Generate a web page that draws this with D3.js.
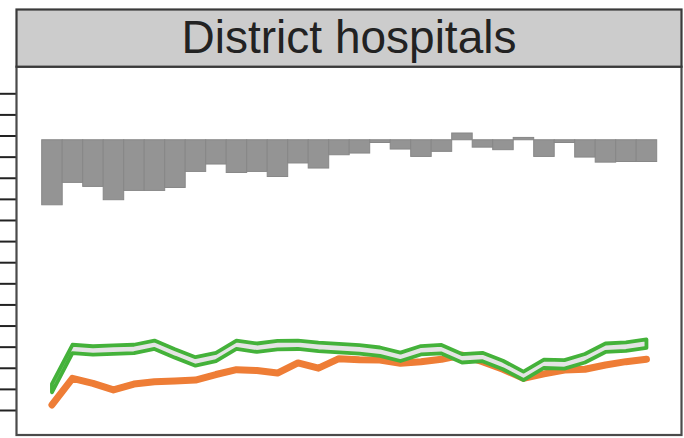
<!DOCTYPE html>
<html>
<head>
<meta charset="utf-8">
<script src="https://cdn.jsdelivr.net/npm/d3@7"></script>
<style>
  html, body { margin: 0; padding: 0; background: #ffffff; }
  svg { display: block; }
</style>
</head>
<body>
<svg id="chart" width="684" height="438"></svg>
<script>
// Panel title
const panelTitle = "District hospitals";

// 30 reporting periods
const periods = d3.range(1, 31);

// Gap bars, hanging from the bar baseline (negative = below)
const barBaseline = 128;
const gapValues = [
  -30.8, -20.2, -22.1, -28.4, -24.0, -24.0, -22.6, -15.0, -11.5, -15.5,
  -15.0, -17.4, -11.0, -13.4, -7.1, -6.3, -1.3, -4.4, -7.9, -5.5,
  3.2, -3.5, -4.7, 1.1, -7.9, -1.3, -8.2, -10.6, -10.3, -10.3
];

// Orange series
const orangeValues = [
  2.4, 15.0, 12.6, 9.5, 12.3, 13.4, 13.7, 14.2, 16.8, 19.1,
  18.7, 17.5, 22.3, 19.8, 24.3, 23.8, 23.7, 22.1, 22.9, 24.0,
  26.0, 22.9, 19.3, 15.0, 17.1, 18.9, 19.3, 21.3, 22.9, 24.0
];

// Green series (centre) and its band half-width
const greenValues = [
  10.4, 28.9, 28.2, 28.6, 28.9, 30.9, 26.8, 23.0, 25.1, 30.9,
  29.5, 30.7, 30.9, 29.9, 29.3, 28.7, 27.6, 25.2, 28.3, 28.8,
  24.5, 25.1, 21.3, 16.2, 21.9, 21.6, 24.5, 29.5, 30.0, 31.4
];
const greenBand = 2.0;

// Y axis ticks
const yTicks = d3.range(0, 151, 10);

const svg = d3.select("#chart");

const frame = { left: 16.5, right: 681.5, stripTop: 9.5, stripBottom: 66.7, bottom: 435 };

const x = d3.scaleBand()
  .domain(periods)
  .range([41.7, 656.7])
  .padding(0);

const y = d3.scaleLinear()
  .domain([0, 150])
  .range([410, 93.3]);

// Panel background
svg.append("rect")
  .attr("x", frame.left).attr("y", frame.stripBottom)
  .attr("width", frame.right - frame.left)
  .attr("height", frame.bottom - frame.stripBottom)
  .attr("fill", "#ffffff");

// Gap bars
svg.append("g")
  .selectAll("rect")
  .data(gapValues)
  .join("rect")
  .attr("x", (d, i) => x(periods[i]))
  .attr("width", x.bandwidth())
  .attr("y", d => Math.min(y(barBaseline), y(barBaseline + d)))
  .attr("height", d => Math.abs(y(barBaseline + d) - y(barBaseline)))
  .attr("fill", "#949494")
  .attr("stroke", "#878787")
  .attr("stroke-width", 1);

const cx = (d, i) => x(periods[i]) + x.bandwidth() / 2;

// Orange line
svg.append("path")
  .datum(orangeValues)
  .attr("d", d3.line().x(cx).y(d => y(d)))
  .attr("fill", "none")
  .attr("stroke", "#ee7d36")
  .attr("stroke-width", 7)
  .attr("stroke-linecap", "round")
  .attr("stroke-linejoin", "round");

// Green ribbon
svg.append("path")
  .datum(greenValues)
  .attr("d", d3.area().x(cx).y0(d => y(d - greenBand)).y1(d => y(d + greenBand)))
  .attr("fill", "#e4e4e4")
  .attr("stroke", "#44b23a")
  .attr("stroke-width", 3.8)
  .attr("stroke-linejoin", "round");

// Left axis ticks (labels fall outside the drawing area)
svg.append("g")
  .attr("transform", `translate(${frame.left},0)`)
  .call(d3.axisLeft(y).tickValues(yTicks).tickSize(17).tickSizeOuter(0).tickFormat(() => ""))
  .call(g => g.select(".domain").remove())
  .call(g => g.selectAll(".tick line").attr("stroke", "#222").attr("stroke-width", 2));

// Panel frame
svg.append("rect")
  .attr("x", frame.left).attr("y", frame.stripBottom)
  .attr("width", frame.right - frame.left)
  .attr("height", frame.bottom - frame.stripBottom)
  .attr("fill", "none")
  .attr("stroke", "#4a4a4a")
  .attr("stroke-width", 2.2);

// Strip with title
svg.append("rect")
  .attr("x", frame.left).attr("y", frame.stripTop)
  .attr("width", frame.right - frame.left)
  .attr("height", frame.stripBottom - frame.stripTop)
  .attr("fill", "#cccccc")
  .attr("stroke", "#3a3a3a")
  .attr("stroke-width", 2.2);

svg.append("text")
  .attr("x", (frame.left + frame.right) / 2)
  .attr("y", 53)
  .attr("text-anchor", "middle")
  .attr("font-family", "Liberation Sans, Arial, sans-serif")
  .attr("font-size", 46)
  .attr("fill", "#222")
  .text(panelTitle);
</script>
</body>
</html>
